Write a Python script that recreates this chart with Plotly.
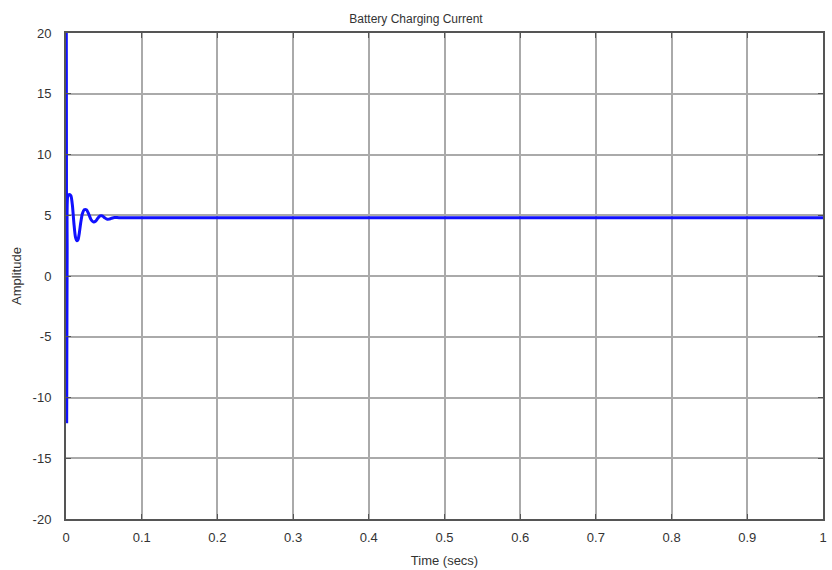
import plotly.graph_objects as go

# Battery charging current samples
time_s = [0.0, 0.0004, 0.0009, 0.0015, 0.0025, 0.0045, 0.0065, 0.0085, 0.0105,
          0.0125, 0.0145, 0.016, 0.0175, 0.0195, 0.0215, 0.024, 0.027, 0.030,
          0.033, 0.036, 0.039, 0.042, 0.045, 0.048, 0.051, 0.054, 0.057,
          0.060, 0.064, 0.07, 0.1, 0.2, 0.3, 0.4, 0.5, 0.6, 0.7, 0.8, 0.9, 1.0]
current_a = [24.0, 20.0, -12.0, 2.0, 6.6, 6.7, 6.6, 5.8, 4.3,
             3.2, 2.9, 3.0, 3.5, 4.4, 5.1, 5.45, 5.45, 5.1,
             4.65, 4.45, 4.5, 4.75, 4.95, 4.95, 4.8, 4.68, 4.68,
             4.75, 4.82, 4.8, 4.8, 4.8, 4.8, 4.8, 4.8, 4.8, 4.8, 4.8, 4.8, 4.8]

x_ticks = [0, 0.1, 0.2, 0.3, 0.4, 0.5, 0.6, 0.7, 0.8, 0.9, 1]
x_tick_text = ["0", "0.1", "0.2", "0.3", "0.4", "0.5", "0.6", "0.7", "0.8", "0.9", "1"]
y_ticks = [-20, -15, -10, -5, 0, 5, 10, 15, 20]
y_tick_text = ["-20", "-15", "-10", "-5", "0", "5", "10", "15", "20"]

FONT = "Liberation Sans, Arial"

fig = go.Figure()
fig.add_trace(go.Scatter(x=time_s, y=current_a, mode="lines",
                         line=dict(color="#1010ff", width=3, shape="spline", smoothing=0.6),
                         hoverinfo="skip"))

axis_common = dict(showgrid=True, gridcolor="#aaaaaa", gridwidth=1.5,
                   zeroline=False, showline=True, linecolor="#555555", linewidth=2,
                   mirror="ticks", ticks="inside", ticklen=5, tickcolor="#555555",
                   automargin=False,
                   tickfont=dict(family=FONT, size=13, color="#333333"))

fig.update_layout(
    width=832, height=570,
    margin=dict(l=66, r=9, t=33, b=51),
    paper_bgcolor="white", plot_bgcolor="white",
    showlegend=False,
    title=dict(text="Battery Charging Current", x=0.5, xanchor="center",
               y=1 - 19 / 570, yanchor="middle",
               font=dict(family=FONT, size=12, color="#333333")),
    xaxis=dict(range=[0, 1], tickvals=x_ticks, ticktext=x_tick_text,
               ticklabelstandoff=5,
               title=dict(text="Time (secs)", standoff=12,
                          font=dict(family=FONT, size=13, color="#333333")),
               **axis_common),
    yaxis=dict(range=[-20, 20], tickvals=y_ticks, ticktext=y_tick_text,
               ticklabelstandoff=10,
               title=dict(text="Amplitude", standoff=8,
                          font=dict(family=FONT, size=13, color="#333333")),
               **axis_common),
)

fig.write_html("out.html")
